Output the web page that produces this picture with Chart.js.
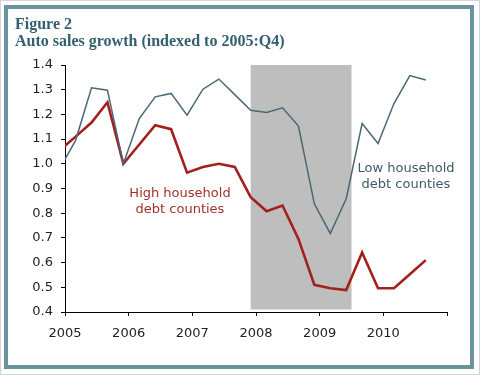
<!DOCTYPE html>
<html>
<head>
<meta charset="utf-8">
<script src="https://cdn.jsdelivr.net/npm/chart.js@4/dist/chart.umd.min.js"></script>
<style>
  html, body { margin: 0; padding: 0; background: #fff; }
  #wrap { position: relative; width: 480px; height: 375px; overflow: hidden; }
  #outer { position: absolute; left: 0; top: 0; width: 478px; height: 373px; border: 1px solid #d4d4d4; }
  #frame { position: absolute; left: 4px; top: 5px; width: 462px; height: 356px; border: 4.5px solid #6a939e; }
  #chart { position: absolute; left: 0; top: 0; }
  .title { position: absolute; left: 15px; top: 15px; font: bold 16px "Liberation Serif", serif; line-height: 17px; color: #33606d; }
  .note { position: absolute; width: 120px; text-align: center; font: 13px "DejaVu Sans", sans-serif; line-height: 16px; }
  #high { left: 120px; top: 185px; color: #a3302b; }
  #low { left: 346px; top: 160px; color: #3e5a66; }
</style>
</head>
<body>
<div id="wrap">
  <div id="outer"></div>
  <div id="frame"></div>
  <canvas id="chart" width="480" height="375"></canvas>
  <div class="title">Figure 2<br>Auto sales growth (indexed to 2005:Q4)</div>
  <div class="note" id="high">High household<br>debt counties</div>
  <div class="note" id="low">Low household<br>debt counties</div>
</div>
<script>
// Data
const quarters = [
  '2004:Q4',
  '2005:Q1', '2005:Q2', '2005:Q3', '2005:Q4',
  '2006:Q1', '2006:Q2', '2006:Q3', '2006:Q4',
  '2007:Q1', '2007:Q2', '2007:Q3', '2007:Q4',
  '2008:Q1', '2008:Q2', '2008:Q3', '2008:Q4',
  '2009:Q1', '2009:Q2', '2009:Q3', '2009:Q4',
  '2010:Q1', '2010:Q2', '2010:Q3'
];
const lowDebt = [
  0.98,
  1.095, 1.308, 1.298, 1.0,
  1.183, 1.271, 1.285, 1.197,
  1.302, 1.343, 1.28, 1.217,
  1.208, 1.227, 1.153, 0.838,
  0.718, 0.858, 1.163, 1.082,
  1.244, 1.357, 1.339
];
const highDebt = [
  1.055,
  1.11, 1.167, 1.249, 1.0,
  1.078, 1.156, 1.14, 0.964,
  0.987, 1.0, 0.987, 0.865,
  0.808, 0.831, 0.696, 0.51,
  0.496, 0.489, 0.641, 0.496,
  0.496, 0.553, 0.61
];
const yearTicks = [2005, 2006, 2007, 2008, 2009, 2010, 2011];
const recession = [2007.917, 2009.5];

const ctx = document.getElementById('chart').getContext('2d');

// quarter label -> position on the year axis
function quarterToX(label) {
  const year = parseInt(label.slice(0, 4));
  const q = parseInt(label.slice(6));
  return year + (q - 1) / 4 + 1 / 6;
}

function toPoints(values) {
  return quarters.map((label, i) => ({ x: quarterToX(label), y: values[i] }));
}

// Shaded recession box
const recessionBox = {
  id: 'recessionBox',
  beforeDatasetsDraw(chart) {
    const x = chart.scales.x;
    const y = chart.scales.y;
    const left = x.getPixelForValue(recession[0]);
    const right = x.getPixelForValue(recession[1]);
    const top = y.getPixelForValue(1.4);
    const bottom = y.getPixelForValue(0.41);
    chart.ctx.save();
    chart.ctx.fillStyle = '#bebebe';
    chart.ctx.fillRect(left, top, right - left, bottom - top);
    chart.ctx.restore();
  }
};

const tickFont = { family: 'DejaVu Sans', size: 13 };

new Chart(ctx, {
  type: 'line',
  data: {
    datasets: [
      {
        label: 'Low household debt counties',
        data: toPoints(lowDebt),
        borderColor: '#4b6774',
        borderWidth: 1.5,
        pointRadius: 0,
        tension: 0
      },
      {
        label: 'High household debt counties',
        data: toPoints(highDebt),
        borderColor: '#a3201d',
        borderWidth: 2.6,
        pointRadius: 0,
        tension: 0
      }
    ]
  },
  options: {
    responsive: false,
    animation: false,
    devicePixelRatio: 1,
    layout: { padding: { top: 65, right: 33, left: 0, bottom: 0 } },
    plugins: {
      legend: { display: false },
      tooltip: { enabled: false }
    },
    scales: {
      x: {
        type: 'linear',
        min: 2005,
        max: 2011,
        afterBuildTicks: (scale) => { scale.ticks = yearTicks.map(v => ({ value: v })); },
        afterFit: (scale) => { scale.height = 63; },
        grid: { drawOnChartArea: false, tickLength: 4, color: '#000' },
        border: { color: '#000' },
        ticks: {
          color: '#222',
          font: tickFont,
          padding: 10,
          maxRotation: 0,
          callback: (v) => (v === 2011 ? '' : String(v))
        }
      },
      y: {
        min: 0.4,
        max: 1.4,
        afterFit: (scale) => { scale.width = 65; },
        grid: { drawOnChartArea: false, tickLength: 4, color: '#000' },
        border: { color: '#000' },
        ticks: {
          stepSize: 0.1,
          color: '#222',
          font: tickFont,
          padding: 8,
          callback: (v) => Number(v).toFixed(1)
        }
      }
    }
  },
  plugins: [recessionBox]
});
</script>
</body>
</html>
